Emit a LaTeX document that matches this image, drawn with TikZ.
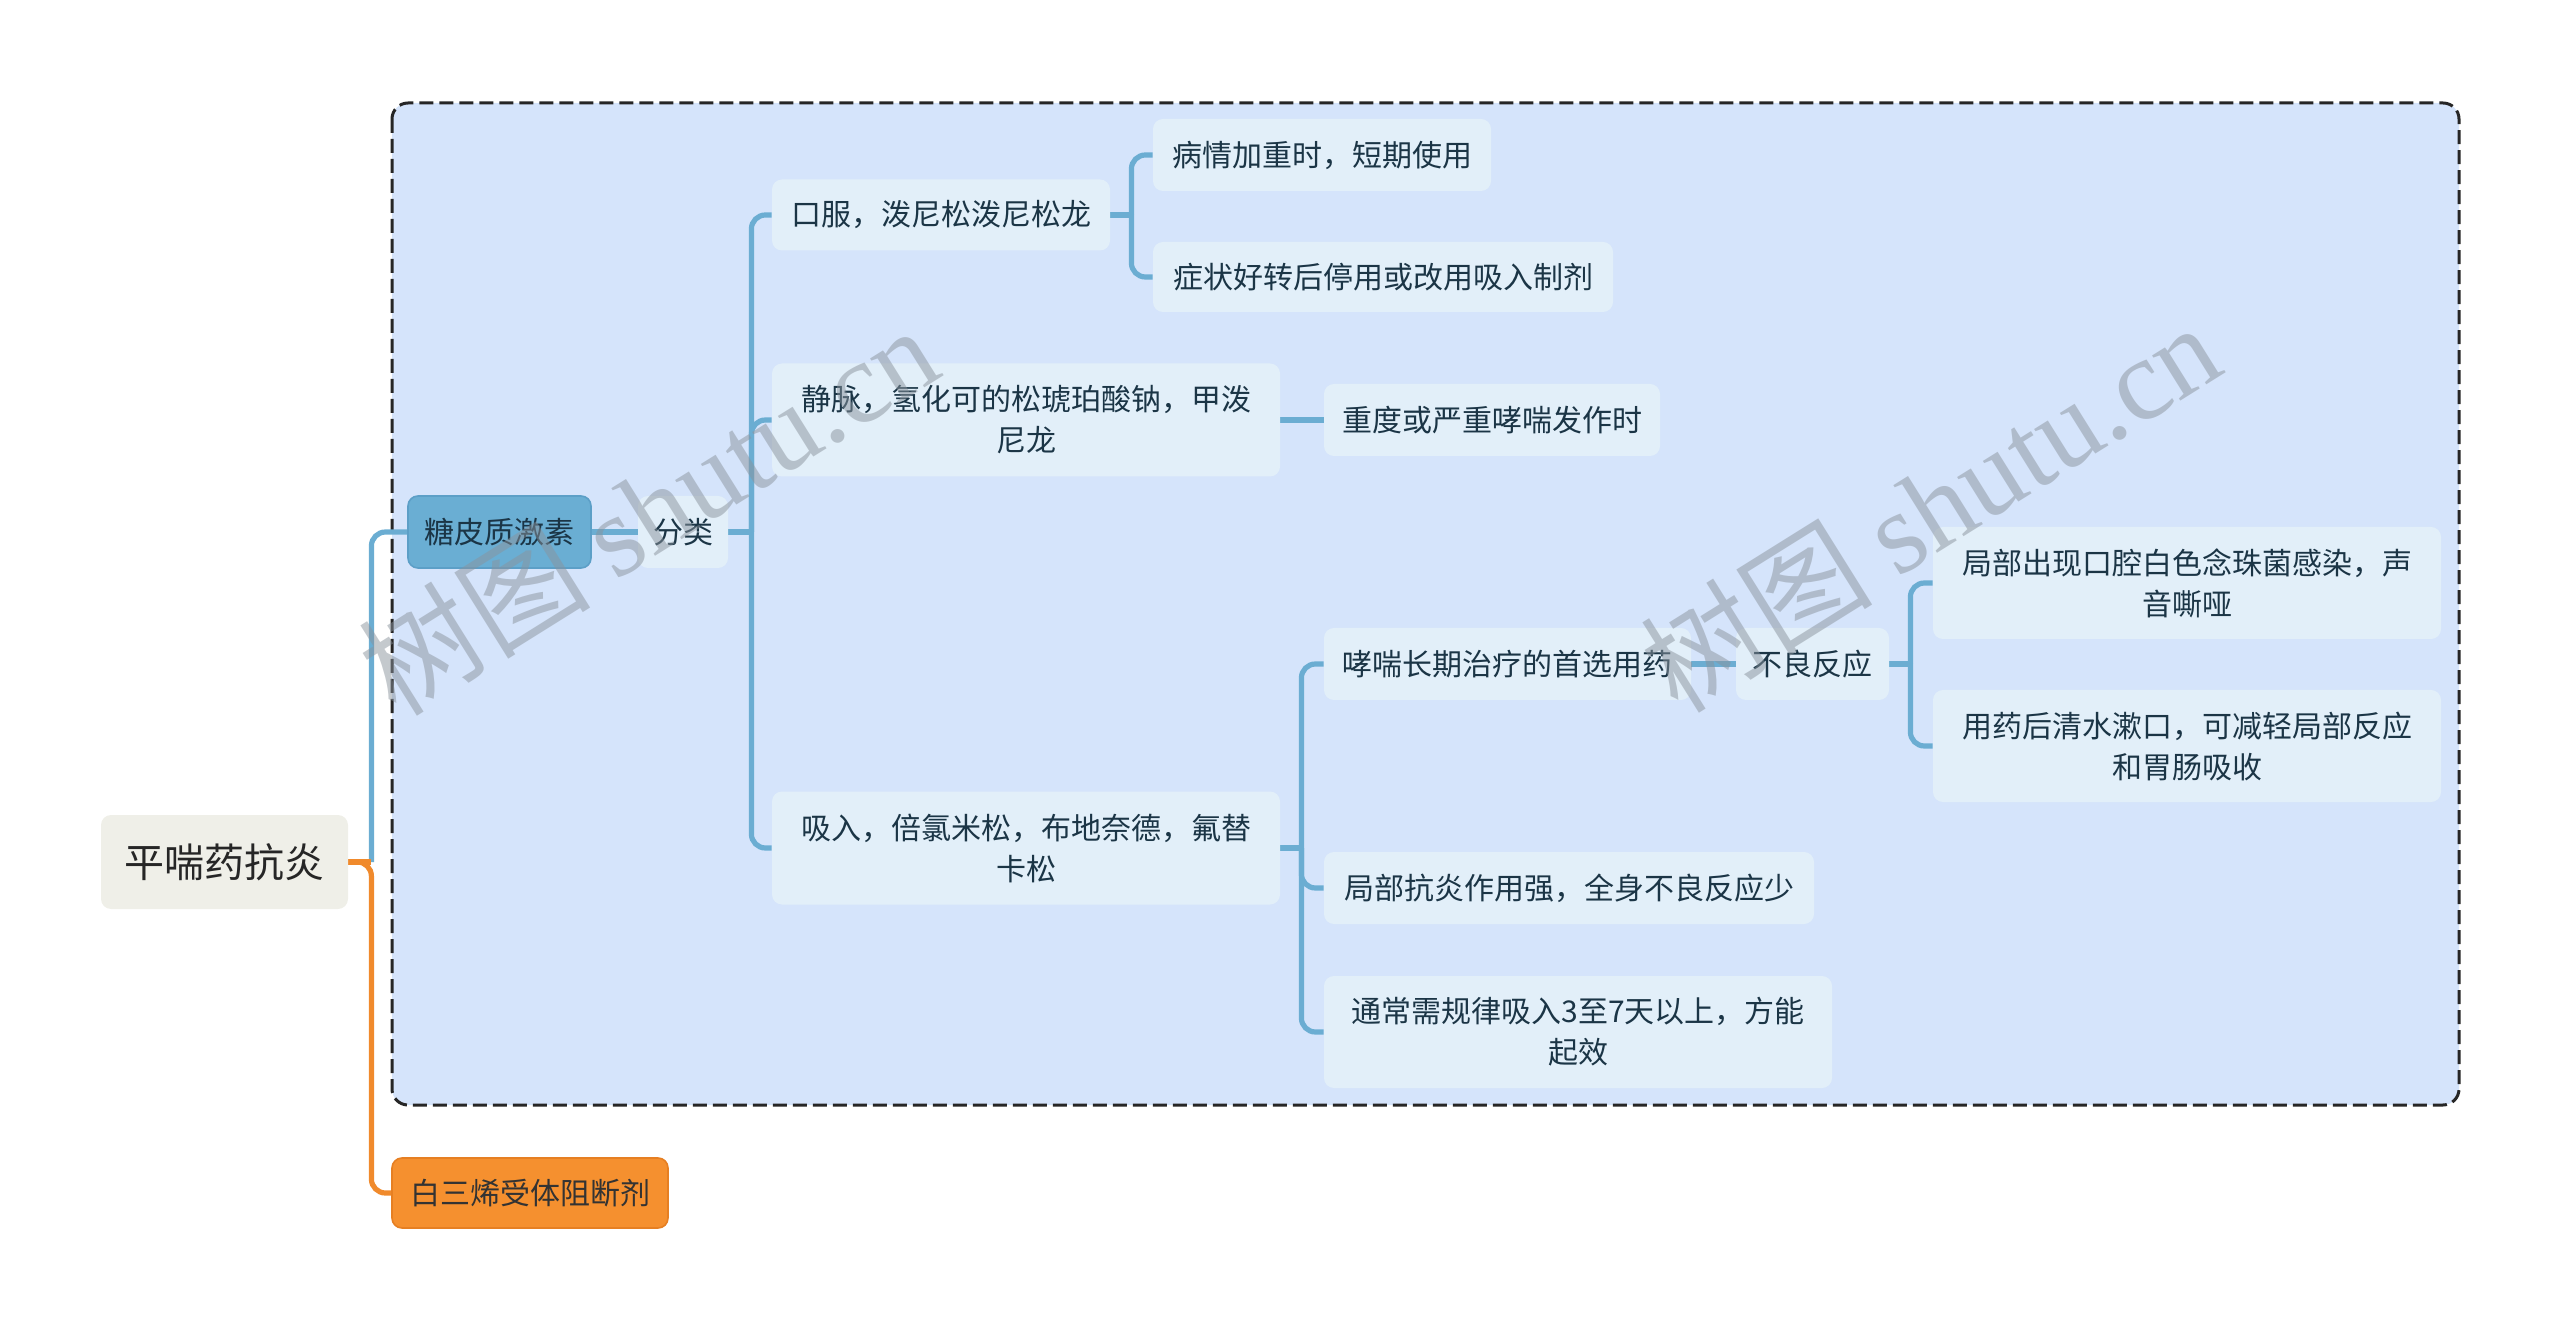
\documentclass[tikz,border=0pt]{standalone}
\usepackage{fontspec}
\setmainfont{Noto Sans CJK SC}
\newfontfamily\wmserif{Liberation Serif}
\usetikzlibrary{backgrounds}
\definecolor{framefill}{HTML}{D5E4FB}
\definecolor{leaffill}{HTML}{E2EFF9}
\definecolor{linkblue}{HTML}{6BADD2}
\definecolor{tangfill}{HTML}{6AAED3}
\definecolor{tangdraw}{HTML}{5C9FC7}
\definecolor{txt}{HTML}{1B3546}
\definecolor{rootfill}{HTML}{EFEFE8}
\definecolor{orangefill}{HTML}{F5902F}
\definecolor{orangedraw}{HTML}{E67F22}
\definecolor{orangeline}{HTML}{F08A2C}
\definecolor{wmgray}{HTML}{8A939C}
\begin{document}
\begin{tikzpicture}[x=0.5pt,y=-0.5pt,
  base/.style={rounded corners=5pt, align=center, inner sep=0pt, text=txt,
    font=\fontsize{15pt}{20.5pt}\selectfont},
  leaf/.style={base, fill=leaffill},
  conn/.style={draw=linkblue, line width=2.6pt, rounded corners=7pt},
  oconn/.style={draw=orangeline, line width=2.6pt, rounded corners=7pt},
  wm/.style={rotate=32, text=wmgray, opacity=0.5, font=\fontsize{58pt}{58pt}\selectfont}
]
\useasboundingbox (0,0) rectangle (2560,1331);

% nodes
\node[base, fill=rootfill, minimum width=123.5pt, minimum height=47pt,
  font=\fontsize{20pt}{24pt}\selectfont, text=black!85] (root) at (224.5,862) {平喘药抗炎};
\node[base, fill=tangfill, draw=tangdraw, line width=0.8pt, minimum width=91.5pt, minimum height=36pt] (tang) at (499.5,532) {糖皮质激素};
\node[leaf, minimum width=45pt, minimum height=36pt] (fen) at (683,532) {分类};
\node[leaf, minimum width=169pt, minimum height=35.5pt] (kou) at (941,215) {口服，泼尼松泼尼松龙};
\node[leaf, minimum width=169pt, minimum height=36pt] (bing) at (1322,155) {病情加重时，短期使用};
\node[leaf, minimum width=230pt, minimum height=35pt] (zheng) at (1383,277) {症状好转后停用或改用吸入制剂};
\node[leaf, minimum width=254pt, minimum height=56.5pt] (jing) at (1026,420) {静脉，氢化可的松琥珀酸钠，甲泼\\尼龙};
\node[leaf, minimum width=168pt, minimum height=36pt] (zhong) at (1492,420) {重度或严重哮喘发作时};
\node[leaf, minimum width=254pt, minimum height=56.5pt] (xi) at (1026,848) {吸入，倍氯米松，布地奈德，氟替\\卡松};
\node[leaf, minimum width=183.5pt, minimum height=36pt] (xiao) at (1507.5,664) {哮喘长期治疗的首选用药};
\node[leaf, minimum width=76.5pt, minimum height=36pt] (bu) at (1812.5,664) {不良反应};
\node[leaf, minimum width=254pt, minimum height=56pt] (ju1) at (2187,583) {局部出现口腔白色念珠菌感染，声\\音嘶哑};
\node[leaf, minimum width=254pt, minimum height=56pt] (yong) at (2187,746) {用药后清水漱口，可减轻局部反应\\和胃肠吸收};
\node[leaf, minimum width=245pt, minimum height=36pt] (ju2) at (1569,888) {局部抗炎作用强，全身不良反应少};
\node[leaf, minimum width=254pt, minimum height=56pt] (tong) at (1578,1032) {通常需规律吸入3至7天以上，方能\\起效};
\node[base, fill=orangefill, draw=orangedraw, line width=0.8pt, minimum width=138pt, minimum height=35pt, text=black!80] (bai) at (530,1193) {白三烯受体阻断剂};

\begin{scope}[on background layer]
  \draw[dashed, dash pattern=on 7pt off 3pt, line width=1.5pt, draw=black!85, fill=framefill, rounded corners=8pt]
    (392,103) rectangle (2459,1105);
  % root
  \draw[oconn] (root.east) -- ++(11.5pt,0) coordinate (rb) |- (bai.west);
  \draw[conn] (rb) |- (tang.west);
  \draw[oconn, rounded corners=0pt] (root.east) -- (rb);
  % tang -> fen
  \draw[conn] (tang.east) -- (fen.west);
  % fen -> children
  \draw[conn] (fen.east) -- ++(11.5pt,0) coordinate (fb);
  \draw[conn] (fb) |- (kou.west);
  \draw[conn] (fb) |- (jing.west);
  \draw[conn] (fb) |- (xi.west);
  % kou -> children
  \draw[conn] (kou.east) -- ++(10.5pt,0) coordinate (kb);
  \draw[conn] (kb) |- (bing.west);
  \draw[conn] (kb) |- (zheng.west);
  % jing -> zhong
  \draw[conn] (jing.east) -- (zhong.west);
  % xi -> children
  \draw[conn] (xi.east) -- ++(10.5pt,0) coordinate (xb);
  \draw[conn] (xb) |- (xiao.west);
  \draw[conn] (xb) |- (ju2.west);
  \draw[conn] (xb) |- (tong.west);
  % xiao -> bu
  \draw[conn] (xiao.east) -- (bu.west);
  % bu -> children
  \draw[conn] (bu.east) -- ++(10.5pt,0) coordinate (bb);
  \draw[conn] (bb) |- (ju1.west);
  \draw[conn] (bb) |- (yong.west);
\end{scope}

% watermarks
\node[wm] (wm1) at (648,509) {树图 {\wmserif shutu.cn}};
\node[wm] (wm2) at (1930,506) {树图 {\wmserif shutu.cn}};
\end{tikzpicture}
\end{document}
